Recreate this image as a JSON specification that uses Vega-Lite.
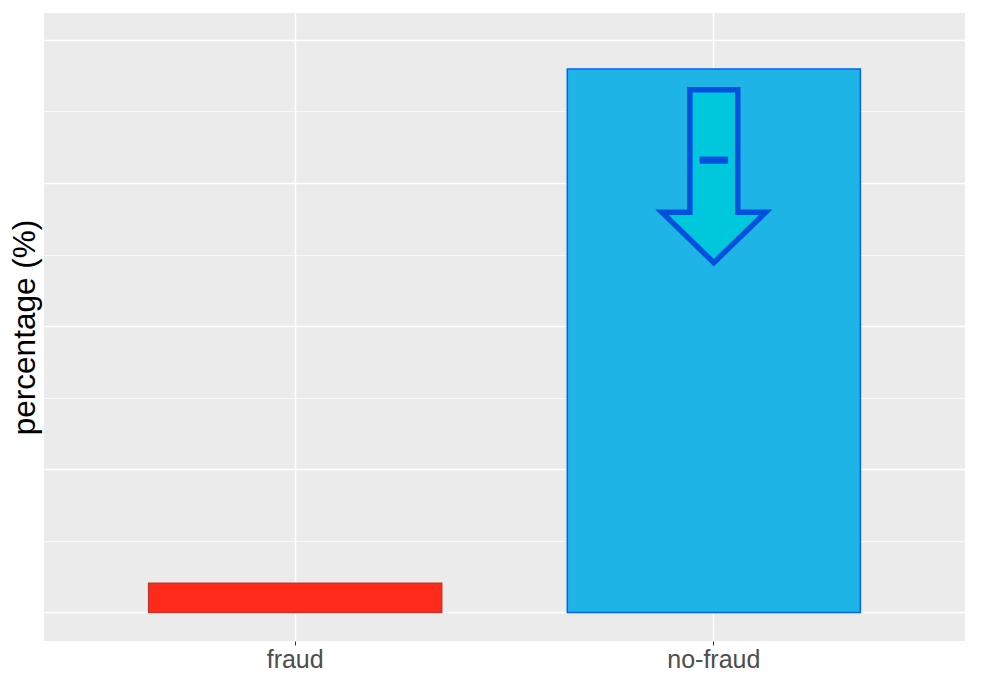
{
  "$schema": "https://vega.github.io/schema/vega-lite/v6.json",
  "autosize": "none",
  "width": 921,
  "height": 628,
  "padding": {"left": 44, "top": 13, "right": 21, "bottom": 41},
  "background": "white",
  "config": {
    "view": {"fill": "#EBEBEB", "stroke": null},
    "font": "Liberation Sans"
  },
  "datasets": {
    "shares": [
      {"class": "fraud", "percentage": 5.1},
      {"class": "no-fraud", "percentage": 94.9}
    ],
    "marker": [
      {"class": "no-fraud", "arrow": 76.2, "sign": 79.0}
    ]
  },
  "encoding": {
    "x": {
      "field": "class",
      "type": "nominal",
      "title": null,
      "scale": {"domain": ["fraud", "no-fraud"], "paddingInner": 0.3, "paddingOuter": 0.25},
      "axis": {
        "labelAngle": 0,
        "labelFontSize": 25,
        "labelColor": "#4D4D4D",
        "labelPadding": 2,
        "tickColor": "#333333",
        "tickSize": 4,
        "tickWidth": 1,
        "domain": false,
        "grid": true,
        "gridColor": "white",
        "gridWidth": 1.4,
        "bandPosition": 0.5
      }
    }
  },
  "layer": [
    {
      "data": {"name": "shares"},
      "mark": {"type": "bar", "strokeWidth": 1.5},
      "encoding": {
        "y": {
          "field": "percentage",
          "type": "quantitative",
          "title": "percentage (%)",
          "scale": {"domain": [-5, 104.7], "nice": false, "zero": false},
          "axis": {
            "values": [0, 12.5, 25, 37.5, 50, 62.5, 75, 87.5, 100],
            "labels": false,
            "ticks": false,
            "domain": false,
            "grid": true,
            "gridColor": "white",
            "gridWidth": {"condition": {"test": "datum.value % 25 === 0", "value": 1.4}, "value": 0.7},
            "titleFontSize": 31.5,
            "titleFontWeight": "normal",
            "titleColor": "black",
            "titlePadding": 3
          }
        },
        "y2": {"datum": 0},
        "fill": {
          "field": "class",
          "type": "nominal",
          "legend": null,
          "scale": {"domain": ["fraud", "no-fraud"], "range": ["#FF2A1A", "#1EB4E6"]}
        },
        "stroke": {
          "field": "class",
          "type": "nominal",
          "legend": null,
          "scale": {"domain": ["fraud", "no-fraud"], "range": ["#B83A30", "#0060FF"]}
        }
      }
    },
    {
      "data": {"name": "marker"},
      "mark": {
        "type": "point",
        "shape": "M -0.277 -1 L 0.277 -1 L 0.277 0.416 L 0.6 0.416 L 0 1 L -0.6 0.416 L -0.277 0.416 Z",
        "size": 29929,
        "filled": true,
        "fill": "#00C8DC",
        "stroke": "#0050E0",
        "strokeWidth": 5.5,
        "opacity": 1,
        "strokeOpacity": 1,
        "fillOpacity": 1
      },
      "encoding": {
        "y": {"field": "arrow", "type": "quantitative"}
      }
    },
    {
      "data": {"name": "marker"},
      "mark": {
        "type": "point",
        "shape": "M -0.9 -0.17 L 0.9 -0.17 L 0.9 0.17 L -0.9 0.17 Z",
        "size": 841,
        "filled": true,
        "fill": "#0050E0",
        "stroke": "#0050E0",
        "strokeWidth": 2.5,
        "strokeJoin": "round",
        "opacity": 1
      },
      "encoding": {
        "y": {"field": "sign", "type": "quantitative"}
      }
    }
  ]
}
